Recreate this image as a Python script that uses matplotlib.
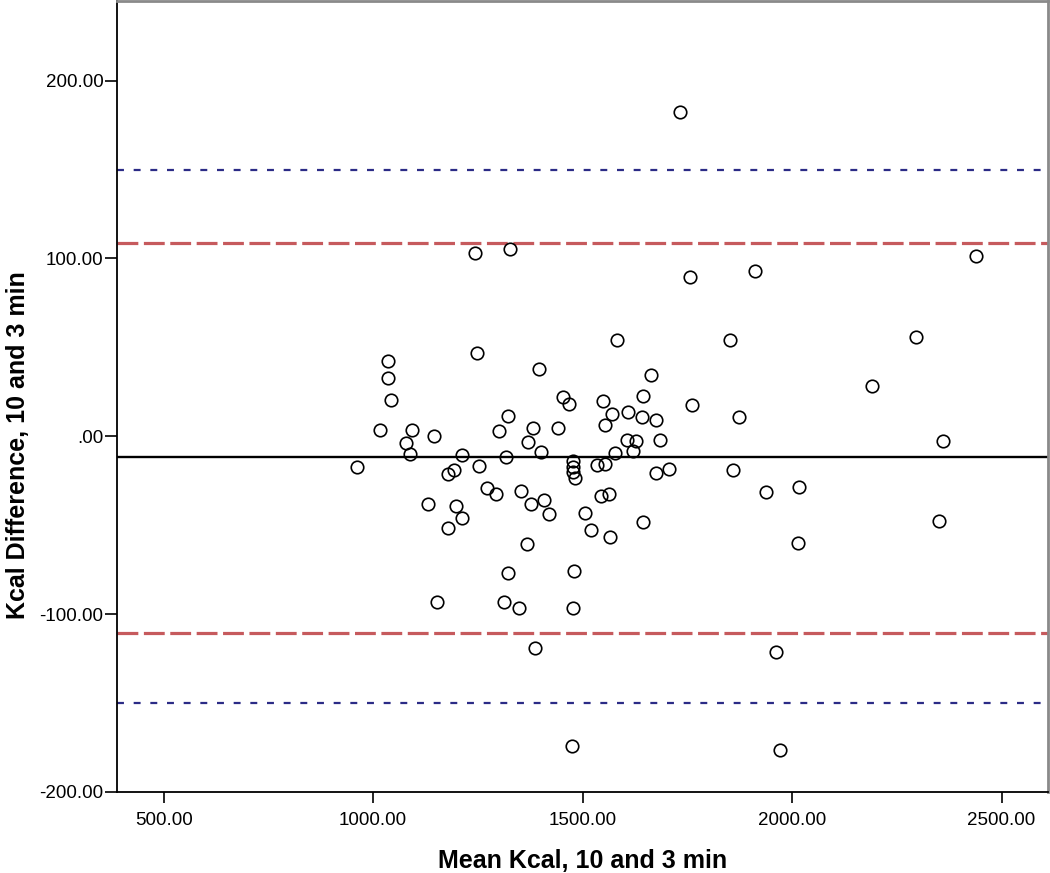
import numpy as np
import matplotlib
matplotlib.use("Agg")
import matplotlib.pyplot as plt

plt.rcParams['font.family'] = ['Liberation Sans', 'DejaVu Sans']
plt.rcParams['lines.scale_dashes'] = False

mean_kcal = np.array([
    1035, 1035, 1042, 1017, 1094, 1079, 1087, 1146, 961, 1249,
    1212, 1192, 1180, 1254, 1131, 1198, 1213, 1178, 1271, 1293,
    1321, 1301, 1318, 1397, 1382, 1371, 1400, 1353, 1376, 1408,
    1421, 1367, 1453, 1468, 1442, 1478, 1478, 1478, 1482, 1507,
    1520, 1534, 1582, 1853, 1663, 1550, 1644, 1571, 1609, 1642,
    1675, 1554, 1761, 1873, 1607, 1628, 1686, 1620, 1578, 1554,
    1675, 1706, 1858, 1543, 1564, 1937, 2017, 1566, 1644, 2014,
    1321, 1480, 1153, 1313, 1349, 1477, 1387, 1474, 2439, 1244,
    1327, 1733, 1757, 1912, 2296, 2191, 2361, 2350, 1962, 1971,
])
diff_kcal = np.array([
    42.4, 32.8, 20.3, 3.4, 3.4, -4.0, -9.7, 0.1, -17.2, 46.9,
    -10.6, -19.1, -21.3, -16.8, -37.8, -39.1, -45.9, -51.5, -28.8, -32.7,
    11.3, 3.0, -11.6, 37.7, 4.9, -3.1, -8.8, -30.7, -38.2, -35.9,
    -43.8, -60.8, 22.1, 18.4, 4.4, -14.0, -17.2, -20.0, -23.7, -43.4,
    -52.8, -15.9, 54.0, 54.0, 34.3, 19.9, 22.5, 12.4, 13.5, 10.9,
    9.4, 6.6, 17.5, 10.9, -1.8, -2.6, -1.8, -8.2, -9.3, -15.3,
    -20.9, -18.5, -18.7, -33.5, -32.5, -31.4, -28.4, -56.9, -48.1, -59.9,
    -76.6, -75.7, -93.4, -93.1, -96.8, -96.8, -118.9, -174.0, 101.2, 103.1,
    105.6, 182.2, 89.6, 92.8, 55.7, 28.2, -2.8, -47.7, -121.2, -176.4,
])

mean_diff = -11.5
red_limits = [108.9, -110.6]
blue_limits = [149.6, -150.0]

x_ticks = [500, 1000, 1500, 2000, 2500]
x_labels = ['500.00', '1000.00', '1500.00', '2000.00', '2500.00']
y_ticks = [-200, -100, 0, 100, 200]
y_labels = ['-200.00', '-100.00', '.00', '100.00', '200.00']

fig = plt.figure(figsize=(10.5, 8.73), dpi=100)
ax = fig.add_axes([0.1119, 0.0928, 0.8862, 0.9055])

for v in blue_limits:
    ax.axhline(v, color='#2b2b86', lw=1.6, dashes=(5, 7), zorder=1)
for v in red_limits:
    ax.axhline(v, color='#c65a5d', lw=2.3, dashes=(15, 4), zorder=1)
ax.axhline(mean_diff, color='black', lw=1.7, zorder=1)

ax.plot(mean_kcal, diff_kcal, 'o', ms=9, mfc='none', mec='black', mew=1.2, zorder=3)

ax.set_xlim(390, 2611)
ax.set_ylim(-200, 244.5)
ax.set_xticks(x_ticks)
ax.set_xticklabels(x_labels)
ax.set_yticks(y_ticks)
ax.set_yticklabels(y_labels)
ax.tick_params(direction='out', width=1.2, labelsize=13.5, colors='black')
ax.tick_params(axis='x', length=8, pad=6.5)
ax.tick_params(axis='y', length=8.5, pad=1.5)

for s in ['left', 'bottom']:
    ax.spines[s].set_color('black')
    ax.spines[s].set_linewidth(1.3)
for s in ['top', 'right']:
    ax.spines[s].set_color('#8a8a8a')
    ax.spines[s].set_linewidth(2)

fig.text(0.555, 1 - 868 / 873, 'Mean Kcal, 10 and 3 min', ha='center', va='baseline',
         fontsize=18, fontweight='bold')
fig.text(0.017, 0.49, 'Kcal Difference, 10 and 3 min', ha='center', va='center',
         rotation=90, fontsize=18, fontweight='bold')

fig.savefig('out.png', dpi=100, facecolor='white')
